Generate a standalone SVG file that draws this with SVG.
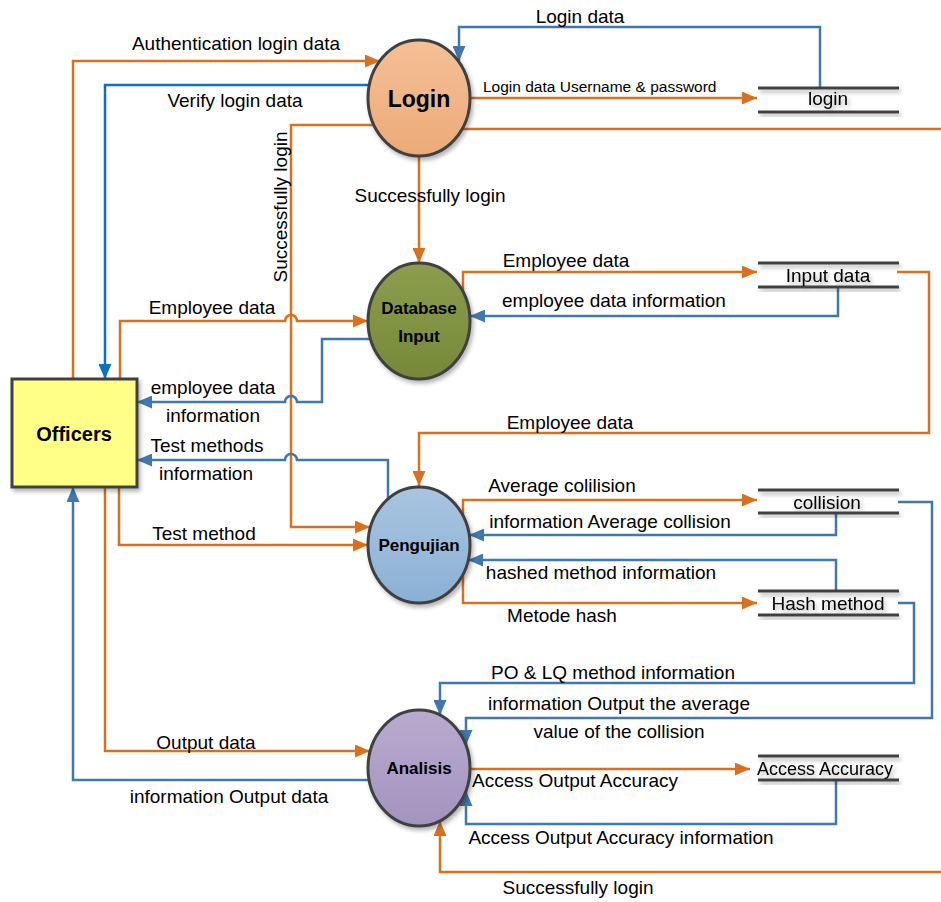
<svg xmlns="http://www.w3.org/2000/svg" width="941" height="902" viewBox="0 0 941 902">
<style>
.o{fill:none;stroke:#D9701E;stroke-width:2.5}
.b{fill:none;stroke:#3F77AF;stroke-width:2.5}
.bb{fill:none;stroke:#0B72C2;stroke-width:2.5}
.oa{marker-end:url(#ao)}
.ba{marker-end:url(#ab)}
.bba{marker-end:url(#abb)}
text{font-family:"Liberation Sans",Arial,sans-serif;fill:#000}
.l{font-size:19px;text-anchor:middle}
.s{font-size:15.5px}
.n{font-weight:bold;text-anchor:middle}
.st{stroke:#404040;stroke-width:3;fill:none}
.node{stroke:#404040;stroke-width:3}
</style>
<defs>
<marker id="ao" markerUnits="userSpaceOnUse" markerWidth="15" markerHeight="13" refX="15" refY="6.5" orient="auto"><path d="M0,0 L15,6.5 L0,13 z" fill="#D9701E"/></marker>
<marker id="ab" markerUnits="userSpaceOnUse" markerWidth="15" markerHeight="13" refX="15" refY="6.5" orient="auto"><path d="M0,0 L15,6.5 L0,13 z" fill="#3F77AF"/></marker>
<marker id="abb" markerUnits="userSpaceOnUse" markerWidth="15" markerHeight="13" refX="15" refY="6.5" orient="auto"><path d="M0,0 L15,6.5 L0,13 z" fill="#0B72C2"/></marker>
<filter id="sh" x="-20%" y="-20%" width="140%" height="140%"><feDropShadow dx="2" dy="3" stdDeviation="2" flood-color="#000" flood-opacity="0.3"/></filter>
<linearGradient id="gL" x1="0" y1="0" x2="0" y2="1"><stop offset="0" stop-color="#F4C096"/><stop offset="1" stop-color="#EDAA78"/></linearGradient>
<linearGradient id="gD" x1="0" y1="0" x2="0" y2="1"><stop offset="0" stop-color="#8C9D4D"/><stop offset="1" stop-color="#76893A"/></linearGradient>
<linearGradient id="gP" x1="0" y1="0" x2="0" y2="1"><stop offset="0" stop-color="#A8C5E0"/><stop offset="1" stop-color="#8BB0D5"/></linearGradient>
<linearGradient id="gA" x1="0" y1="0" x2="0" y2="1"><stop offset="0" stop-color="#B9ABCF"/><stop offset="1" stop-color="#A393BF"/></linearGradient>
</defs>
<rect width="941" height="902" fill="#fff"/>

<g id="connectors">
<path class="o oa" d="M73,379 V61 H380"/>
<path class="bb bba" d="M369,85 H105 V379"/>
<path class="b ba" d="M820,88 V27 H459 V61"/>
<path class="o oa" d="M468,98 H757"/>
<path class="o oa" d="M462,129 H946 V872 H440 V821"/>
<path class="o oa" d="M374,125 H291 V527 H370"/>
<path class="o oa" d="M419,157 V263"/>
<path class="o oa" d="M120,379 V321 H285 A6,6 0 0 1 297,321 H368"/>
<path class="b ba" d="M370,339 H322 V402 H297 A6,6 0 0 0 285,402 H137"/>
<path class="b ba" d="M388,499 V460 H297 A6,6 0 0 0 285,460 H137"/>
<path class="o oa" d="M119,487 V545 H368"/>
<path class="o oa" d="M105,487 V751 H370"/>
<path class="b ba" d="M370,780 H73 V487"/>
<path class="o oa" d="M463,292 V272 H757"/>
<path class="b ba" d="M838,287 V316 H470"/>
<path class="o oa" d="M897,272 H929 V433 H419 V486"/>
<path class="o oa" d="M463,516 V500 H757"/>
<path class="b ba" d="M836,513 V535 H469"/>
<path class="b ba" d="M836,591 V560 H468"/>
<path class="o oa" d="M463,574 V603 H757"/>
<path class="b ba" d="M898,603 H914 V683 H440 V715"/>
<path class="b ba" d="M898,502 H932 V718 H466 V745"/>
<path class="o oa" d="M470,769 H750"/>
<path class="b ba" d="M836,780 V824 H466 V791"/>
</g>

<g id="labels">
<text class="l" x="236" y="50">Authentication login data</text>
<text class="l" x="235" y="107">Verify login data</text>
<text class="l" x="580" y="23">Login data</text>
<text class="s" x="483" y="92">Login data Username &amp; password</text>
<text class="l" x="430" y="202">Successfully login</text>
<text class="l" transform="translate(287,207) rotate(-90)">Successfully login</text>
<text class="l" x="212" y="314">Employee data</text>
<text class="l" x="213" y="394">employee data</text>
<text class="l" x="213" y="422">information</text>
<text class="l" x="207" y="452">Test methods</text>
<text class="l" x="206" y="480">information</text>
<text class="l" x="204" y="540">Test method</text>
<text class="l" x="206" y="749">Output data</text>
<text class="l" x="229" y="803">information Output data</text>
<text class="l" x="566" y="267">Employee data</text>
<text class="l" x="614" y="307">employee data information</text>
<text class="l" x="570" y="429">Employee data</text>
<text class="l" x="562" y="492">Average colilision</text>
<text class="l" x="610" y="528">information Average collision</text>
<text class="l" x="601" y="579">hashed method information</text>
<text class="l" x="562" y="622">Metode hash</text>
<text class="l" x="613" y="679">PO &amp; LQ method information</text>
<text class="l" x="619" y="710">information Output the average</text>
<text class="l" x="619" y="738">value of the collision</text>
<text class="l" x="575" y="787">Access Output Accuracy</text>
<text class="l" x="621" y="844">Access Output Accuracy information</text>
<text class="l" x="578" y="894">Successfully login</text>
</g>

<g id="officers">
<rect class="node" x="12" y="379" width="125" height="108" fill="#FFFF88" filter="url(#sh)"/>
<text class="n" x="74" y="441" font-size="20">Officers</text>
</g>
<g id="login">
<ellipse class="node" cx="419" cy="98" rx="51" ry="58" fill="url(#gL)" filter="url(#sh)"/>
<text class="n" x="419" y="107" font-size="23">Login</text>
</g>
<g id="database-input">
<ellipse class="node" cx="419" cy="321" rx="51" ry="58" fill="url(#gD)" filter="url(#sh)"/>
<text class="n" x="419" y="314" font-size="17">Database</text>
<text class="n" x="419" y="342" font-size="17">Input</text>
</g>
<g id="pengujian">
<ellipse class="node" cx="419" cy="545" rx="51" ry="58" fill="url(#gP)" filter="url(#sh)"/>
<text class="n" x="419" y="551" font-size="17">Pengujian</text>
</g>
<g id="analisis">
<ellipse class="node" cx="419" cy="768" rx="51" ry="58" fill="url(#gA)" filter="url(#sh)"/>
<text class="n" x="419" y="774" font-size="17">Analisis</text>
</g>

<g id="store-login" filter="url(#sh)">
<path class="st" d="M758,88 H899 M758,112 H899"/>
<text class="l" x="828" y="105">login</text>
</g>
<g id="store-input" filter="url(#sh)">
<path class="st" d="M758,263 H899 M758,287 H899"/>
<text class="l" x="828" y="282">Input data</text>
</g>
<g id="store-collision" filter="url(#sh)">
<path class="st" d="M758,490 H899 M758,513 H899"/>
<text class="l" x="827" y="509">collision</text>
</g>
<g id="store-hash" filter="url(#sh)">
<path class="st" d="M758,591 H899 M758,615 H899"/>
<text class="l" x="828" y="610">Hash method</text>
</g>
<g id="store-accuracy" filter="url(#sh)">
<path class="st" d="M758,756 H899 M758,780 H899"/>
<text class="l" x="825" y="775" style="font-size:18px">Access Accuracy</text>
</g>
</svg>
